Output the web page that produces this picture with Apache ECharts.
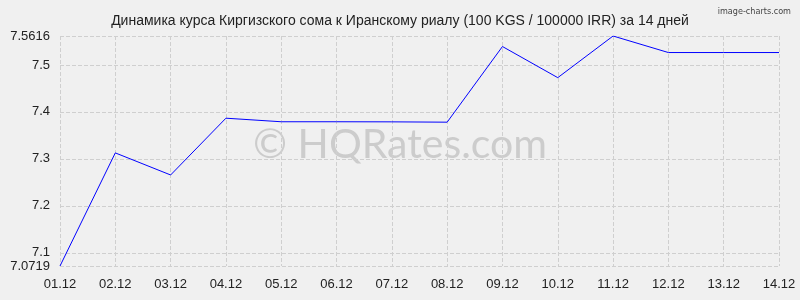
<!DOCTYPE html>
<html><head><meta charset="utf-8">
<script src="https://cdn.jsdelivr.net/npm/echarts@6/dist/echarts.min.js"></script>
<style>html,body{margin:0;padding:0;background:#f0f0f0}#c{width:800px;height:300px}</style>
</head><body><div id="c"></div>
<script>
const categories = ['01.12','02.12','03.12','04.12','05.12','06.12','07.12','08.12','09.12','10.12','11.12','12.12','13.12','14.12'];
const values = [7.0719,7.3127,7.2657,7.3866,7.3790,7.3790,7.3788,7.3781,7.5392,7.4729,7.5616,7.5264,7.5264,7.5264];
const yMin = 7.0719, yMax = 7.5616;
const yTicks = [7.0719, 7.1, 7.2, 7.3, 7.4, 7.5, 7.5616];
const titleText = 'Динамика курса Киргизского сома к Иранскому риалу (100 KGS / 100000 IRR) за 14 дней';
const chart = echarts.init(document.getElementById('c'));
chart.setOption({
  backgroundColor: '#f0f0f0',
  animation: false,
  title: [
    {text: titleText, left: 'center', top: 9, textStyle: {fontFamily: 'Liberation Sans, Arial', fontSize: 14, fontWeight: 'normal', color: '#222'}},
    {text: 'image-charts.com', right: 4, top: 2, textStyle: {fontFamily: 'DejaVu Sans Condensed, Liberation Sans Narrow', fontSize: 9, fontWeight: 'normal', color: '#444'}}
  ],
  graphic: [{type: 'text', left: 253, top: 124, style: {text: '© HQRates.com', font: '41px Lato, "Open Sans", sans-serif', fill: 'rgba(160,160,160,0.45)'}, z: 0}],
  grid: {left: 60, right: 21, top: 36, bottom: 34},
  xAxis: {
    type: 'category', data: categories, boundaryGap: false,
    axisLine: {show: false}, axisTick: {show: false},
    axisLabel: {fontFamily: 'Liberation Sans, Arial', fontSize: 13, color: '#222', margin: 12},
    splitLine: {show: true, lineStyle: {type: 'dashed', color: '#cfcfcf'}}
  },
  yAxis: {
    type: 'value', min: yMin, max: yMax,
    axisLine: {show: false},
    axisTick: {show: false, customValues: yTicks},
    axisLabel: {fontFamily: 'Liberation Sans, Arial', fontSize: 13, color: '#222', margin: 10, customValues: yTicks, hideOverlap: false},
    splitLine: {show: true, lineStyle: {type: 'dashed', color: '#cfcfcf'}}
  },
  series: [{type: 'line', data: values, showSymbol: false, lineStyle: {color: '#0000ff', width: 1}, z: 5}]
});
</script></body></html>
